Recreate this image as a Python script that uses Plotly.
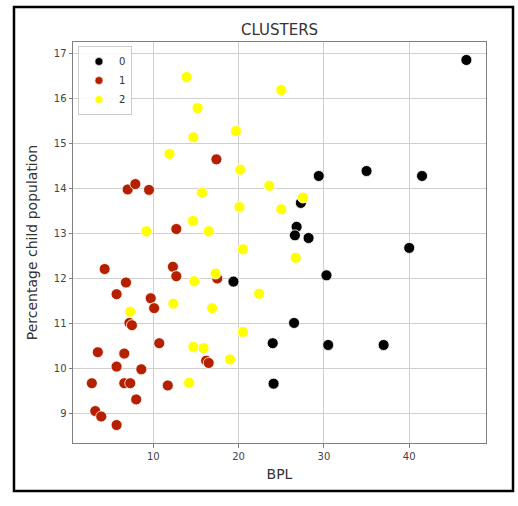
import plotly.graph_objects as go

# Cluster 0
bpl_0 = [46.7, 29.4, 35.0, 41.5, 27.3, 26.8, 26.6, 28.2, 40.0, 30.3, 26.5, 24.0, 30.5, 37.0, 24.1, 19.4]
child_0 = [16.86, 14.28, 14.39, 14.28, 13.68, 13.15, 12.96, 12.90, 12.68, 12.07, 11.01, 10.56, 10.52, 10.52, 9.66, 11.93]

# Cluster 1
bpl_1 = [17.4, 7.0, 7.9, 9.5, 12.7, 4.3, 6.8, 12.3, 12.7, 5.7, 17.5, 9.7, 10.1, 7.2, 7.5,
         10.7, 3.5, 6.6, 5.7, 8.6, 2.8, 6.6, 7.3, 11.7, 8.0, 3.2, 3.9, 5.7, 16.2, 16.5]
child_1 = [14.65, 13.98, 14.10, 13.97, 13.10, 12.21, 11.91, 12.26, 12.05, 11.65, 12.00, 11.56, 11.34, 11.01, 10.96,
           10.56, 10.36, 10.33, 10.04, 9.98, 9.67, 9.67, 9.67, 9.62, 9.31, 9.05, 8.93, 8.74, 10.17, 10.12]

# Cluster 2
bpl_2 = [13.9, 15.2, 14.7, 19.7, 11.9, 15.7, 20.2, 20.1, 14.65, 25.0, 23.6, 27.55, 25.0, 9.2,
         16.5, 20.5, 26.7, 14.8, 17.3, 22.4, 12.35, 16.9, 7.3, 20.5, 14.7, 15.9, 19.0, 14.2]
child_2 = [16.48, 15.79, 15.14, 15.28, 14.77, 13.91, 14.42, 13.59, 13.28, 16.19, 14.06, 13.80, 13.54, 13.05,
           13.05, 12.65, 12.46, 11.94, 12.11, 11.66, 11.44, 11.34, 11.26, 10.81, 10.48, 10.45, 10.20, 9.68]

labels = ["0", "1", "2"]
colors = ["#000000", "#b52000", "#ffff00"]
series = [(bpl_0, child_0), (bpl_1, child_1), (bpl_2, child_2)]

fig = go.Figure()
for (xs, ys), col in zip(series, colors):
    fig.add_trace(go.Scatter(
        x=xs, y=ys, mode="markers", showlegend=False,
        marker=dict(size=11, color=col, line=dict(color="white", width=0.8)),
    ))
# Smaller legend swatches
for lab, col in zip(labels, colors):
    fig.add_trace(go.Scatter(
        x=[None], y=[None], mode="markers", name=lab,
        marker=dict(size=8, color=col, line=dict(color="white", width=0.6)),
    ))

axis_common = dict(
    showgrid=True, gridcolor="#cfcfcf", gridwidth=1,
    showline=True, linecolor="#7f7f7f", linewidth=1, mirror=True,
    ticks="outside", ticklen=3.5, tickcolor="#7f7f7f",
    tickfont=dict(family="DejaVu Sans", size=10, color="#444444"),
    zeroline=False,
)

fig.update_layout(
    width=518, height=506,
    margin=dict(l=73, r=32, t=42, b=63),
    paper_bgcolor="white", plot_bgcolor="white",
    title=dict(text="CLUSTERS", x=0.5, xref="paper", y=1 - 30 / 506, yanchor="middle",
               font=dict(family="DejaVu Sans", size=15, color="#333333")),
    xaxis=dict(axis_common, range=[0.59, 49.0], tickvals=[10, 20, 30, 40],
               title=dict(text="BPL", font=dict(family="DejaVu Sans", size=14, color="#333333"), standoff=8)),
    yaxis=dict(axis_common, range=[8.34, 17.26], tickvals=[9, 10, 11, 12, 13, 14, 15, 16, 17],
               title=dict(text="Percentage child population",
                          font=dict(family="DejaVu Sans", size=14, color="#333333"), standoff=12)),
    legend=dict(x=0.012, y=0.99, xanchor="left", yanchor="top",
                bgcolor="rgba(255,255,255,0.85)", bordercolor="#cccccc", borderwidth=1,
                font=dict(family="DejaVu Sans", size=10, color="#333333"),
                itemwidth=30, tracegroupgap=0),
    shapes=[dict(type="rect", xref="paper", yref="paper",
                 x0=-0.1429, x1=1.0654, y0=-0.1197, y1=1.0873,
                 line=dict(color="black", width=2.5), layer="above")],
)

fig.write_html("out.html")
